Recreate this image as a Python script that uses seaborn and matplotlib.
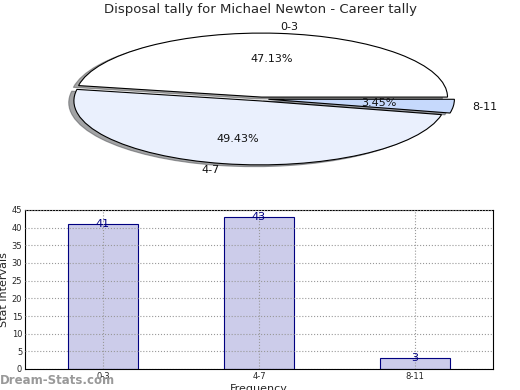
import matplotlib
matplotlib.use("Agg")
import matplotlib.pyplot as plt
import seaborn as sns
import pandas as pd

categories = ["0-3", "4-7", "8-11"]
counts = [41, 43, 3]
pie_colors = ["#ffffff", "#eaf0fd", "#c6d9fc"]
title = "Disposal tally for Michael Newton - Career tally"

sns.set_theme(style="white")
plt.rcParams['font.family'] = ['DejaVu Sans']

fig = plt.figure(figsize=(5.2, 3.9), dpi=100)
W, H = 520.0, 390.0

# ---- Pie (stretched ellipse) ----
cx, cy, rx, ry = 261.0, 99.0, 186.0, 64.0
k = 1.35
axp = fig.add_axes([(cx - rx * k) / W, (H - cy - ry * k) / H, 2 * rx * k / W, 2 * ry * k / H])
wedges, texts, autotexts = axp.pie(
    counts, labels=categories, colors=pie_colors, explode=[0.03, 0.03, 0.04],
    autopct="%1.2f%%", pctdistance=0.6, labeldistance=1.1, shadow=True,
    startangle=0, counterclock=True,
    wedgeprops=dict(edgecolor="black", linewidth=0.8),
    textprops=dict(fontsize=8, color="#111111"))
axp.set_aspect("auto")
axp.set_xlim(-k, k)
axp.set_ylim(-k, k)
axp.axis("off")
fig.text(0.5, 1 - 10 / H, title, ha="center", va="center", fontsize=9.5)

# ---- Bar chart ----
axb = fig.add_axes([25 / W, 21 / H, 468 / W, 159 / H])
df = pd.DataFrame({"cat": categories, "val": counts})
sns.barplot(data=df, x="cat", y="val", ax=axb, width=0.45, color="#ccccea",
            edgecolor="#000080", linewidth=0.8, saturation=1)
axb.set_xlim(-0.5, 2.5)
axb.set_ylim(0, 45)
axb.set_yticks(range(0, 46, 5))
axb.tick_params(axis="both", labelsize=6, direction="in", length=3, pad=2)
axb.set_axisbelow(False)
axb.grid(True, color="#999999", linestyle=":", linewidth=0.8)
for s in axb.spines.values():
    s.set_color("black")
    s.set_linewidth(0.8)
axb.set_xlabel("Frequency", fontsize=8, labelpad=2)
axb.set_ylabel("Stat Intervals", fontsize=8, labelpad=2)
for i, v in enumerate(counts):
    axb.text(i, v, str(v), ha="center", va="center", fontsize=8, color="#000080")

fig.text(0.0, 1 - 380 / H, "Dream-Stats.com", ha="left", va="center",
         fontsize=8.5, color="#999999", fontweight="bold")

fig.savefig("out.png", dpi=100)
